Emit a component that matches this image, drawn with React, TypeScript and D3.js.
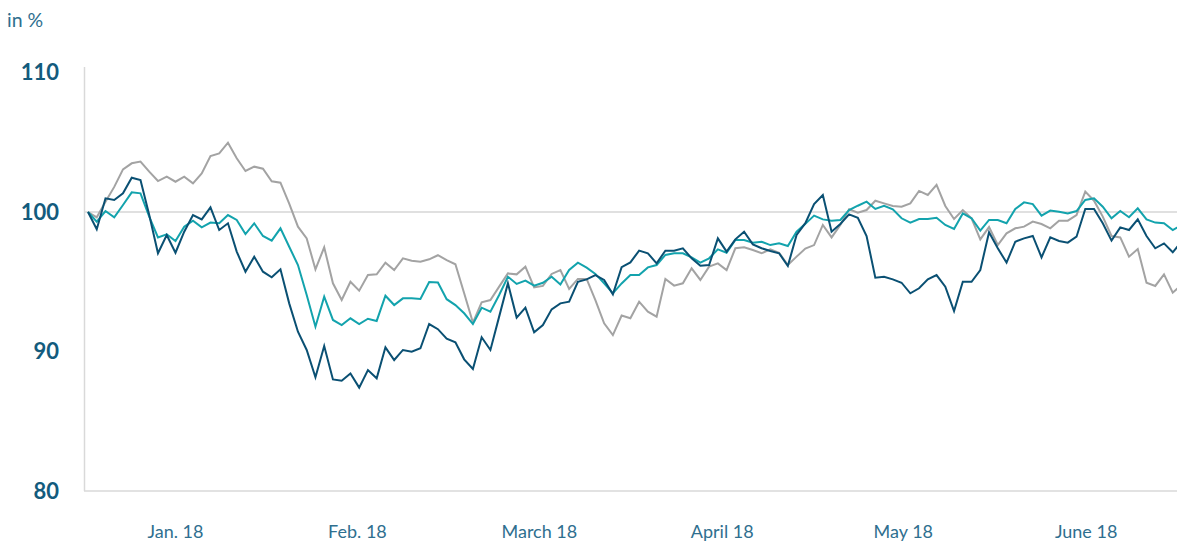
import React from "react";
import * as d3 from "d3";

const navySeries: number[] = [
  100, 98.76, 100.98, 100.86, 101.34, 102.46, 102.29, 99.78, 97.04, 98.35,
  97.08, 98.59, 99.78, 99.47, 100.33, 98.71, 99.19, 97.16, 95.72, 96.8,
  95.72, 95.32, 95.89, 93.45, 91.42, 90.11, 88.15, 90.39, 88.0, 87.91,
  88.43, 87.41, 88.67, 88.08, 90.3, 89.39, 90.11, 89.99, 90.23, 91.97,
  91.6, 90.92, 90.66, 89.44, 88.75, 91.02, 90.11, 92.5, 94.89, 92.43,
  93.14, 91.37, 91.9, 93.02, 93.45, 93.57, 95.0, 95.17, 95.48, 95.13,
  94.1, 96.05, 96.39, 97.23, 97.04, 96.32, 97.23, 97.23, 97.4, 96.68,
  96.15, 96.2, 98.11, 97.16, 98.04, 98.59, 97.68, 97.4, 97.2, 97.04,
  96.13, 98.35, 99.2, 100.57, 101.22, 98.59, 99.14, 99.83, 99.59, 98.28,
  95.29, 95.36, 95.17, 94.93, 94.17, 94.53, 95.17, 95.48, 94.65, 92.9,
  95.0, 95.0, 95.84, 98.55, 97.4, 96.37, 97.87, 98.11, 98.28, 96.75,
  98.18, 97.92, 97.8, 98.23, 100.22, 100.22, 99.19, 97.95, 98.9, 98.71,
  99.47, 98.28, 97.4, 97.75, 97.11, 97.87,
];

const tealSeries: number[] = [
  100, 99.31, 100.07, 99.62, 100.5, 101.41, 101.34, 99.67, 98.18, 98.4,
  97.92, 98.95, 99.38, 98.9, 99.24, 99.19, 99.78, 99.43, 98.42, 99.19,
  98.28, 97.95, 98.83, 97.51, 96.2, 94.05, 91.78, 93.93, 92.26, 91.9,
  92.38, 91.97, 92.35, 92.19, 94.0, 93.33, 93.81, 93.81, 93.76, 94.98,
  94.95, 93.75, 93.33, 92.74, 91.97, 93.14, 92.86, 94.05, 95.36, 94.84,
  95.08, 94.72, 94.93, 95.36, 94.81, 95.84, 96.37, 96.01, 95.56, 94.89,
  94.17, 94.88, 95.48, 95.48, 96.03, 96.2, 96.92, 97.04, 97.04, 96.75,
  96.37, 96.68, 97.32, 97.08, 97.99, 97.99, 97.8, 97.87, 97.63, 97.75,
  97.56, 98.59, 99.15, 99.74, 99.47, 99.38, 99.43, 100.14, 100.45, 100.74,
  100.22, 100.45, 100.19, 99.55, 99.24, 99.5, 99.5, 99.59, 99.07, 98.78,
  99.9, 99.55, 98.66, 99.43, 99.43, 99.19, 100.22, 100.69, 100.57, 99.74,
  100.1, 100.02, 99.9, 100.07, 100.86, 100.98, 100.38, 99.55, 100.07, 99.62,
  100.26, 99.47, 99.24, 99.19, 98.71, 99.07,
];

const graySeries: number[] = [
  100, 99.62, 100.74, 101.8, 103.06, 103.49, 103.61, 102.89, 102.22, 102.53,
  102.17, 102.53, 102.05, 102.77, 104.01, 104.2, 104.97, 103.85, 102.94, 103.25,
  103.1, 102.2, 102.1, 100.6, 98.95, 98.11, 95.89, 97.47, 94.89, 93.69,
  95.0, 94.36, 95.48, 95.53, 96.37, 95.84, 96.68, 96.51, 96.44, 96.61,
  96.9, 96.55, 96.25, 94.17, 92.07, 93.52, 93.69, 94.65, 95.6, 95.53,
  96.08, 94.6, 94.7, 95.56, 95.84, 94.48, 95.2, 95.2, 93.69, 92.02,
  91.18, 92.58, 92.38, 93.57, 92.86, 92.5, 95.2, 94.72, 94.89, 95.96,
  95.13, 96.08, 96.32, 95.84, 97.4, 97.47, 97.28, 97.04, 97.32, 97.08,
  96.2, 96.8, 97.38, 97.63, 99.07, 98.18, 99.07, 100.19, 99.95, 100.14,
  100.81, 100.62, 100.43, 100.38, 100.62, 101.51, 101.22, 101.94, 100.43, 99.5,
  100.14, 99.55, 98.04, 98.92, 97.63, 98.47, 98.83, 98.95, 99.31, 99.14,
  98.83, 99.38, 99.38, 99.78, 101.46, 100.81, 99.67, 98.28, 98.18, 96.8,
  97.35, 94.93, 94.7, 95.53, 94.22, 94.77,
];

const yTicks: number[] = [80, 90, 100, 110];
const monthLabels: string[] = ["Jan. 18", "Feb. 18", "March 18", "April 18", "May 18", "June 18"];
const monthCenterIndex: number[] = [10, 30.8, 51.6, 72.5, 93.2, 114.1];
const unitLabel = "in %";

const W = 1177;
const H = 541;
const FONT = "Lato, 'Open Sans', sans-serif";
const LABEL_COLOR = "#135b7d";
const TEXT_COLOR = "#2f6f8f";

export default function App() {
  const x = d3.scaleLinear().domain([0, 125]).range([88, 1181.5]);
  const y = d3.scaleLinear().domain([80, 110]).range([491, 72.5]);
  const line = d3
    .line<number>()
    .x((_, i) => x(i))
    .y((d) => y(d));

  const series = [
    { data: graySeries, color: "#a3a3a3" },
    { data: tealSeries, color: "#13a3ad" },
    { data: navySeries, color: "#0a5073" },
  ];

  return (
    <svg
      width={W}
      height={H}
      style={{ position: "absolute", left: 0, top: 0, background: "#fff" }}
    >
      <text x={7} y={27} fontFamily={FONT} fontSize={19.5} fill={TEXT_COLOR}>
        {unitLabel}
      </text>
      <line x1={84} x2={W} y1={y(100)} y2={y(100)} stroke="#e0e0e0" strokeWidth={2} />
      <line x1={84.5} x2={84.5} y1={67} y2={y(80)} stroke="#d9d9d9" strokeWidth={1.5} />
      <line x1={84} x2={W} y1={y(80)} y2={y(80)} stroke="#d9d9d9" strokeWidth={1.5} />
      {yTicks.map((t) => (
        <text
          key={t}
          x={59}
          y={y(t)}
          dy="0.36em"
          textAnchor="end"
          fontFamily={FONT}
          fontWeight={700}
          fontSize={22}
          fill={LABEL_COLOR}
        >
          {t}
        </text>
      ))}
      {monthLabels.map((m, i) => (
        <text
          key={m}
          x={x(monthCenterIndex[i])}
          y={538}
          textAnchor="middle"
          fontFamily={FONT}
          fontSize={18}
          fill={TEXT_COLOR}
        >
          {m}
        </text>
      ))}
      {series.map((s, i) => (
        <path
          key={i}
          d={line(s.data) || ""}
          fill="none"
          stroke={s.color}
          strokeWidth={2}
          strokeLinejoin="miter"
        />
      ))}
    </svg>
  );
}
